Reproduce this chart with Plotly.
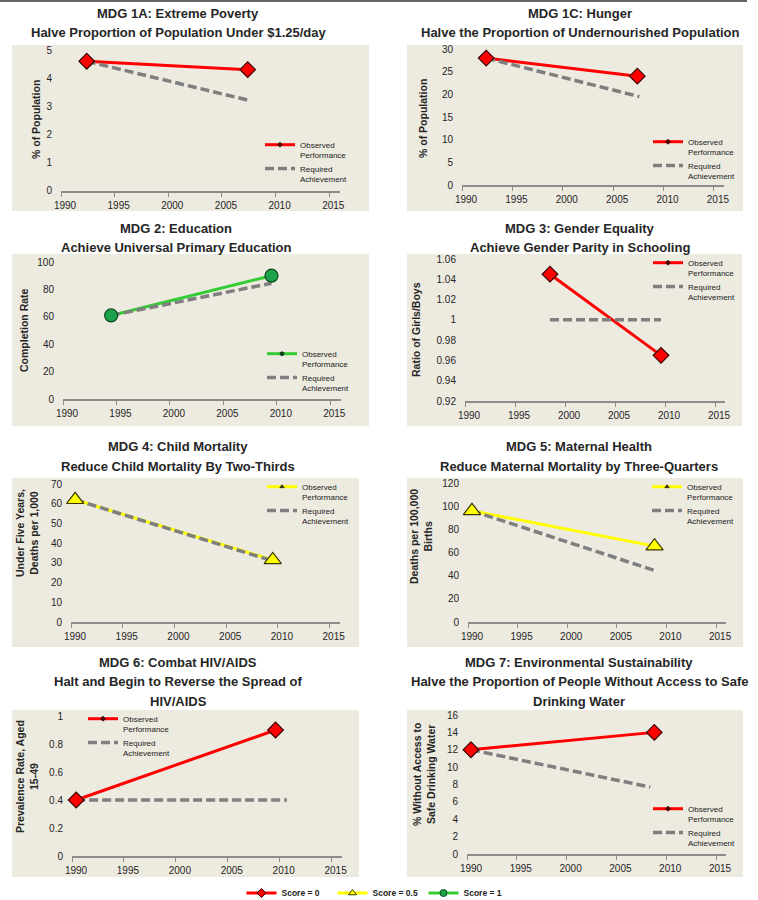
import plotly.graph_objects as go

W, H = 758, 900
FONT = "Liberation Sans, Arial, sans-serif"
BEIGE = "#EDEAE0"

# ---------------- data ----------------
titles = [
    ["MDG 1A: Extreme Poverty", "Halve Proportion of Population Under $1.25/day"],
    ["MDG 1C: Hunger", "Halve the Proportion of Undernourished Population"],
    ["MDG 2: Education", "Achieve Universal Primary Education"],
    ["MDG 3: Gender Equality", "Achieve Gender Parity in Schooling"],
    ["MDG 4: Child Mortality", "Reduce Child Mortality By Two-Thirds"],
    ["MDG 5: Maternal Health", "Reduce Maternal Mortality by Three-Quarters"],
    ["MDG 6: Combat HIV/AIDS", "Halt and Begin to Reverse the Spread of", "HIV/AIDS"],
    ["MDG 7: Environmental Sustainability", "Halve the Proportion of People Without Access to Safe", "Drinking Water"],
]
y_titles = [
    "% of Population",
    "% of Population",
    "Completion Rate",
    "Ratio of Girls/Boys",
    "Under Five Years,<br>Deaths per 1,000",
    "Deaths per 100,000<br>Births",
    "Prevalence Rate, Aged<br>15-49",
    "% Without Access to<br>Safe Drinking Water",
]

obs_years = [
    [1992.4, 2007.4],
    [1992.4, 2007.4],
    [1994.5, 2009.5],
    [1998.5, 2009.6],
    [1990.4, 2009.5],
    [1990.4, 2008.8],
    [1990.4, 2009.6],
    [1990.4, 2008.8],
]
obs_values = [
    [4.6, 4.3],
    [28, 24],
    [61, 90],
    [1.045, 0.965],
    [62, 31.5],
    [96, 65.5],
    [0.4, 0.9],
    [12, 14],
]
req_years = [
    [1992.4, 2007.6],
    [1992.4, 2007.6],
    [1994.5, 2009.5],
    [1998.5, 2009.6],
    [1990.4, 2009.5],
    [1990.4, 2008.8],
    [1990.4, 2010.7],
    [1990.4, 2008.4],
]
req_values = [
    [4.6, 3.2],
    [28, 19.5],
    [61, 84.5],
    [1.0, 1.0],
    [62, 31],
    [96, 44.5],
    [0.4, 0.4],
    [12, 7.7],
]
scores = [0, 0, 1, 0, 0.5, 0.5, 0, 0]

x_ticks = [1990, 1995, 2000, 2005, 2010, 2015]
y_tickvals = [
    [0, 1, 2, 3, 4, 5],
    [0, 5, 10, 15, 20, 25, 30],
    [0, 20, 40, 60, 80, 100],
    [0.92, 0.94, 0.96, 0.98, 1.0, 1.02, 1.04, 1.06],
    [0, 10, 20, 30, 40, 50, 60, 70],
    [0, 20, 40, 60, 80, 100, 120],
    [0, 0.2, 0.4, 0.6, 0.8, 1],
    [0, 2, 4, 6, 8, 10, 12, 14, 16],
]
y_ticktext = [
    ["0", "1", "2", "3", "4", "5"],
    ["0", "5", "10", "15", "20", "25", "30"],
    ["0", "20", "40", "60", "80", "100"],
    ["0.92", "0.94", "0.96", "0.98", "1", "1.02", "1.04", "1.06"],
    ["0", "10", "20", "30", "40", "50", "60", "70"],
    ["0", "20", "40", "60", "80", "100", "120"],
    ["0", "0.2", "0.4", "0.6", "0.8", "1"],
    ["0", "2", "4", "6", "8", "10", "12", "14", "16"],
]
score_labels = ["Score = 0", "Score = 0.5", "Score = 1"]
score_values = [0, 0.5, 1]

# ---------------- styles / layout geometry (pixels) ----------------
score_style = {
    0: dict(line="#FF0000", fill="#FF0000", border="#3A0000", symbol="diamond", size=12),
    0.5: dict(line="#FFFF00", fill="#FFFF00", border="#3A3A00", symbol="triangle-up", size=15),
    1: dict(line="#33CC33", fill="#1BA24A", border="#0B4A1E", symbol="circle", size=13),
}

# plot area: left, right, top, bottom (px)
plot_px = [
    (61, 340, 50, 190.5),
    (462, 724, 49, 185),
    (63, 341, 262, 399),
    (465, 725, 259, 401),
    (71, 340, 484, 622),
    (468, 726, 483, 622),
    (72, 342, 716, 856),
    (467, 726, 715, 854),
]
y_ranges = [[0, 5], [0, 30], [0, 100], [0.92, 1.06], [0, 70], [0, 120], [0, 1], [0, 16]]
beige_px = [
    (12, 45, 369, 211),
    (407, 45, 743, 211),
    (12, 254, 369, 426),
    (407, 254, 742, 426),
    (12, 478, 359, 647),
    (407, 478, 743, 647),
    (12, 710, 359, 877),
    (407, 710, 743, 877),
]
title_x = [178, 580, 176, 580, 178, 579, 178, 579]
title_y = [[14, 33], [14, 33], [228, 247], [228, 247], [447, 467], [447, 467],
           [662, 681, 701], [662, 681, 701]]
ytitle_pos = [(36, 120), (423, 119), (24, 330), (416, 330), (27, 533), (421, 537),
              (27, 777), (424, 775)]
legend_pos = [(260, 133), (648, 130), (262, 342), (648, 251), (262, 475), (647, 475),
              (83, 707), (648, 797)]


def px_x(v):
    return v / W


def px_y(v):
    return 1 - v / H


fig = go.Figure()
shapes = []
annotations = []
layout_extra = {}

for i in range(8):
    k = "" if i == 0 else str(i + 1)
    xa, ya = "x" + k, "y" + k
    st = score_style[scores[i]]
    lg = "legend" + str(i + 2)

    # observed line (with tiny markers for the legend symbol)
    fig.add_trace(go.Scatter(
        x=obs_years[i], y=obs_values[i], xaxis=xa, yaxis=ya, mode="lines+markers",
        name="Observed<br>Performance", legend=lg,
        line=dict(color=st["line"], width=3),
        marker=dict(symbol=st["symbol"], size=4, color="#5A0000" if scores[i] == 0 else st["border"],
                    line=dict(color="#000000", width=0.5)),
        cliponaxis=False, hoverinfo="skip",
    ))
    # required achievement
    fig.add_trace(go.Scatter(
        x=req_years[i], y=req_values[i], xaxis=xa, yaxis=ya, mode="lines",
        name="Required<br>Achievement", legend=lg,
        line=dict(color="#7F7F7F", width=3.5, dash="9px,4px"),
        cliponaxis=False, hoverinfo="skip",
    ))
    # big end markers
    fig.add_trace(go.Scatter(
        x=obs_years[i], y=obs_values[i], xaxis=xa, yaxis=ya, mode="markers",
        showlegend=False,
        marker=dict(symbol=st["symbol"], size=st["size"], color=st["fill"],
                    line=dict(color=st["border"], width=1.2)),
        cliponaxis=False, hoverinfo="skip",
    ))

    l, r, t, b = plot_px[i]
    layout_extra["xaxis" + k] = dict(
        domain=[px_x(l), px_x(r)], anchor=ya, range=[1990, 2016],
        tickvals=x_ticks, ticktext=[str(v) for v in x_ticks],
        showline=True, linecolor="#8C8C8C", linewidth=2,
        ticks="outside", ticklen=4, tickcolor="#8C8C8C", tickwidth=1,
        ticklabelshift=4,
        showgrid=False, zeroline=False, fixedrange=True, automargin=False,
        tickfont=dict(family=FONT, size=10, color="#262626"),
    )
    layout_extra["yaxis" + k] = dict(
        domain=[px_y(b), px_y(t)], anchor=xa, range=y_ranges[i],
        tickvals=y_tickvals[i], ticktext=y_ticktext[i],
        showline=False, ticks="", showgrid=False, zeroline=False, fixedrange=True,
        ticklabelstandoff=8, automargin=False,
        tickfont=dict(family=FONT, size=10, color="#262626"),
    )
    lx, ly = legend_pos[i]
    layout_extra[lg] = dict(
        x=px_x(lx), y=px_y(ly), xanchor="left", yanchor="top",
        bgcolor="rgba(0,0,0,0)", itemwidth=30, valign="top",
        font=dict(family=FONT, size=8, color="#222222"),
        traceorder="normal", itemclick=False, itemdoubleclick=False,
    )

    bx0, by0, bx1, by1 = beige_px[i]
    shapes.append(dict(type="rect", xref="paper", yref="paper", layer="below",
                       x0=px_x(bx0), x1=px_x(bx1), y0=px_y(by1), y1=px_y(by0),
                       fillcolor=BEIGE, line=dict(width=0)))

    for line_text, yy in zip(titles[i], title_y[i]):
        annotations.append(dict(
            text="<b>" + line_text + "</b>", xref="paper", yref="paper",
            x=px_x(title_x[i]), y=px_y(yy), xanchor="center", yanchor="middle",
            showarrow=False, font=dict(family=FONT, size=13, color="#262626"),
        ))
    tx, ty = ytitle_pos[i]
    annotations.append(dict(
        text="<b>" + y_titles[i] + "</b>", xref="paper", yref="paper",
        x=px_x(tx), y=px_y(ty), xanchor="center", yanchor="middle", textangle=-90,
        showarrow=False, font=dict(family=FONT, size=10.5, color="#262626"),
    ))

# bottom score legend (legend-only entries)
for lab, sv in zip(score_labels, score_values):
    st = score_style[sv]
    fig.add_trace(go.Scatter(
        x=[None], y=[None], mode="lines+markers", name="<b>" + lab + "</b>", legend="legend",
        line=dict(color=st["line"], width=3),
        marker=dict(symbol=st["symbol"], size=7, color=st["fill"],
                    line=dict(color=st["border"], width=1)),
        hoverinfo="skip",
    ))

# thin rule at the very top
shapes.append(dict(type="line", xref="paper", yref="paper", x0=0, x1=px_x(747),
                   y0=px_y(1), y1=px_y(1), line=dict(color="#333333", width=1.5)))

fig.update_layout(
    width=W, height=H, autosize=False,
    margin=dict(l=0, r=0, t=0, b=0, autoexpand=False),
    paper_bgcolor="#FFFFFF", plot_bgcolor=BEIGE,
    font=dict(family=FONT, color="#222222"),
    shapes=shapes, annotations=annotations,
    legend=dict(orientation="h", x=px_x(378), y=px_y(893), xanchor="center", yanchor="middle",
                bgcolor="rgba(0,0,0,0)", itemwidth=30, entrywidth=46, entrywidthmode="pixels",
                font=dict(family=FONT, size=8.5, color="#222222"),
                itemclick=False, itemdoubleclick=False),
    **layout_extra,
)

fig.write_html(
    "out.html",
    config={"displayModeBar": False},
    post_script=(
        "document.body.style.margin='0';"
        "var gd=document.getElementById('{plot_id}');"
        "gd.style.position='absolute';gd.style.left='0px';gd.style.top='0px';"
    ),
)
